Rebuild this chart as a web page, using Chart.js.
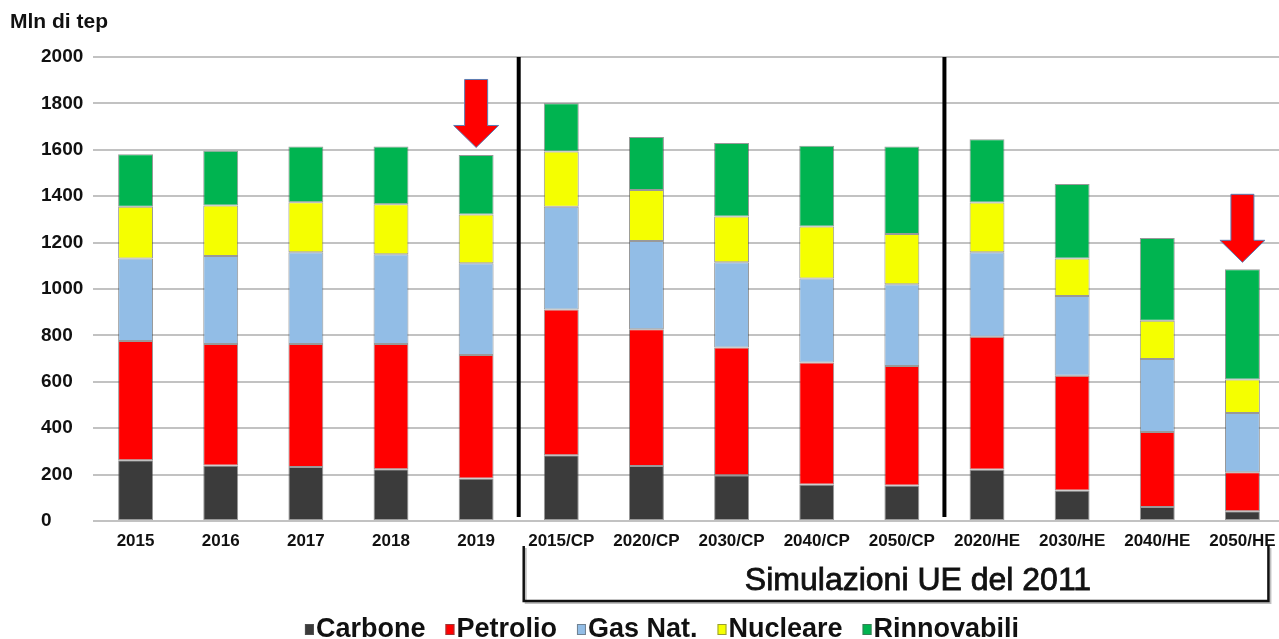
<!DOCTYPE html>
<html lang="it">
<head>
<meta charset="utf-8">
<title>Consumi di energia primaria - Mln di tep</title>
<script src="https://cdn.jsdelivr.net/npm/chart.js@4.4.1/dist/chart.umd.min.js"></script>
<style>
  html, body { margin: 0; padding: 0; background: #ffffff; overflow: hidden; }
  #wrap { position: relative; width: 1286px; height: 639px; }
</style>
</head>
<body>
<div id="wrap"><canvas id="chart"></canvas></div>
<script>
// Categories: historical years, then the 2011 EU scenarios (CP = current policy, HE = high efficiency)
const categories = ['2015', '2016', '2017', '2018', '2019',
  '2015/CP', '2020/CP', '2030/CP', '2040/CP', '2050/CP',
  '2020/HE', '2030/HE', '2040/HE', '2050/HE'];

// Primary energy by source, Mln di tep
const carbone     = [262, 239, 233, 223, 183, 283, 237, 197, 157, 153, 222, 132,  60,  42];
const petrolio    = [514, 524, 530, 540, 532, 629, 589, 551, 526, 515, 572, 494, 324, 168];
const gasNat      = [356, 379, 395, 387, 396, 443, 381, 367, 362, 352, 364, 344, 314, 256];
const nucleare    = [223, 218, 216, 215, 210, 238, 220, 197, 224, 217, 215, 162, 165, 144];
const rinnovabili = [226, 236, 240, 249, 257, 208, 228, 317, 348, 377, 273, 321, 357, 475];

const seriesNames = ['Carbone', 'Petrolio', 'Gas Nat.', 'Nucleare', 'Rinnovabili'];
const seriesColors = ['#3b3b3b', '#ff0000', '#92bde6', '#f5ff00', '#00b450'];

// Y axis ticks
const yTicks = [0, 200, 400, 600, 800, 1000, 1200, 1400, 1600, 1800, 2000];

// Group separators sit between these category indexes
const separatorsAfter = [4, 9];
// Down arrows: category and the value their tip points at
const arrowCats = ['2019', '2050/HE'];
const arrowTips = [1610, 1115];

const axisTitle = 'Mln di tep';
const bracketLabel = 'Simulazioni UE del 2011';

const FONT = '"Liberation Sans", Arial, Helvetica, sans-serif';

const seriesValues = [carbone, petrolio, gasNat, nucleare, rinnovabili];
const datasets = seriesNames.map((name, i) => ({
  label: name,
  data: seriesValues[i],
  backgroundColor: seriesColors[i],
  borderColor: 'rgba(70,70,70,0.55)',
  borderWidth: 1,
  borderSkipped: false,
  barPercentage: 0.41,
  categoryPercentage: 1.0
}));

function drawArrow(ctx, cx, tipY) {
  const shaftHalf = 11.5, headHalf = 22.5, headLen = 22, total = 68;
  ctx.beginPath();
  ctx.moveTo(cx - shaftHalf, tipY - total);
  ctx.lineTo(cx + shaftHalf, tipY - total);
  ctx.lineTo(cx + shaftHalf, tipY - headLen);
  ctx.lineTo(cx + headHalf, tipY - headLen);
  ctx.lineTo(cx, tipY);
  ctx.lineTo(cx - headHalf, tipY - headLen);
  ctx.lineTo(cx - shaftHalf, tipY - headLen);
  ctx.closePath();
  ctx.fillStyle = '#ff0000';
  ctx.fill();
  ctx.strokeStyle = '#5a7db3';
  ctx.lineWidth = 1;
  ctx.stroke();
}

const overlays = {
  id: 'overlays',
  afterDatasetsDraw(chart) {
    const ctx = chart.ctx;
    const xs = chart.scales.x, ys = chart.scales.y;
    ctx.save();
    // thick black group separators
    ctx.strokeStyle = '#000000';
    ctx.lineWidth = 4;
    separatorsAfter.forEach(i => {
      const x = (xs.getPixelForValue(i) + xs.getPixelForValue(i + 1)) / 2;
      ctx.beginPath();
      ctx.moveTo(x, ys.getPixelForValue(2000));
      ctx.lineTo(x, ys.getPixelForValue(0) - 4);
      ctx.stroke();
    });
    // arrows
    arrowCats.forEach((c, k) => {
      drawArrow(ctx, xs.getPixelForValue(categories.indexOf(c)), ys.getPixelForValue(arrowTips[k]));
    });
    ctx.restore();
  },
  afterDraw(chart) {
    const ctx = chart.ctx;
    const xs = chart.scales.x;
    ctx.save();

    // unit label top-left
    ctx.fillStyle = '#111111';
    ctx.font = 'bold 21px ' + FONT;
    ctx.textAlign = 'left';
    ctx.textBaseline = 'alphabetic';
    ctx.fillText(axisTitle, 10, 28);

    // bracket under the scenario categories
    const left = (xs.getPixelForValue(separatorsAfter[0]) + xs.getPixelForValue(separatorsAfter[0] + 1)) / 2 + 5;
    const right = xs.getPixelForValue(categories.length - 1) + 26;
    const top = 546, bottom = 601;
    ctx.strokeStyle = 'rgba(0,0,0,0.25)';
    ctx.lineWidth = 2;
    ctx.beginPath();
    ctx.moveTo(left + 2, top + 2); ctx.lineTo(left + 2, bottom + 2);
    ctx.lineTo(right + 2, bottom + 2); ctx.lineTo(right + 2, top + 2);
    ctx.stroke();
    ctx.strokeStyle = '#111111';
    ctx.lineWidth = 2.5;
    ctx.beginPath();
    ctx.moveTo(left, top); ctx.lineTo(left, bottom);
    ctx.lineTo(right, bottom); ctx.lineTo(right, top);
    ctx.stroke();

    ctx.fillStyle = '#111111';
    ctx.strokeStyle = '#111111';
    ctx.lineWidth = 0.8;
    ctx.font = '32px ' + FONT;
    ctx.textAlign = 'center';
    ctx.fillText(bracketLabel, 918, 590);
    ctx.strokeText(bracketLabel, 918, 590);

    // legend row
    ctx.font = 'bold 27px ' + FONT;
    ctx.textAlign = 'left';
    const boxW = 9, boxH = 11, boxGap = 2, itemGap = 20;
    const widths = seriesNames.map(n => boxW + boxGap + ctx.measureText(n).width);
    const total = widths.reduce((a, b) => a + b, 0) + itemGap * (seriesNames.length - 1);
    let x = 662 - total / 2;
    seriesNames.forEach((n, i) => {
      ctx.fillStyle = seriesColors[i];
      ctx.fillRect(x, 624, boxW, boxH);
      ctx.strokeStyle = 'rgba(90,90,90,0.6)';
      ctx.lineWidth = 1;
      ctx.strokeRect(x + 0.5, 624.5, boxW - 1, boxH - 1);
      ctx.fillStyle = '#111111';
      ctx.fillText(n, x + boxW + boxGap, 637);
      x += widths[i] + itemGap;
    });
    ctx.restore();
  }
};

new Chart(document.getElementById('chart'), {
  type: 'bar',
  data: { labels: categories, datasets },
  options: {
    responsive: true,
    maintainAspectRatio: false,
    animation: false,
    layout: { padding: { top: 57, right: 1, left: 41, bottom: 0 } },
    plugins: {
      legend: { display: false },
      tooltip: { enabled: false },
      title: { display: false }
    },
    scales: {
      x: {
        stacked: true,
        grid: { display: false, drawTicks: false },
        border: { display: false },
        ticks: {
          autoSkip: false,
          maxRotation: 0,
          padding: 10,
          color: '#111111',
          font: { family: FONT, size: 17, weight: 'bold' }
        },
        afterFit(scale) { scale.height = 118; }
      },
      y: {
        stacked: true,
        min: 0,
        max: 2000,
        afterBuildTicks(scale) { scale.ticks = yTicks.map(v => ({ value: v })); },
        grid: { color: '#c2c2c2', lineWidth: 2, drawTicks: false },
        border: { display: false },
        ticks: {
          padding: 9,
          crossAlign: 'far',
          color: '#111111',
          font: { family: FONT, size: 19, weight: 'bold' },
          callback: v => String(v)
        },
        afterFit(scale) { scale.width = 52; }
      }
    }
  },
  plugins: [overlays]
});
</script>
</body>
</html>
